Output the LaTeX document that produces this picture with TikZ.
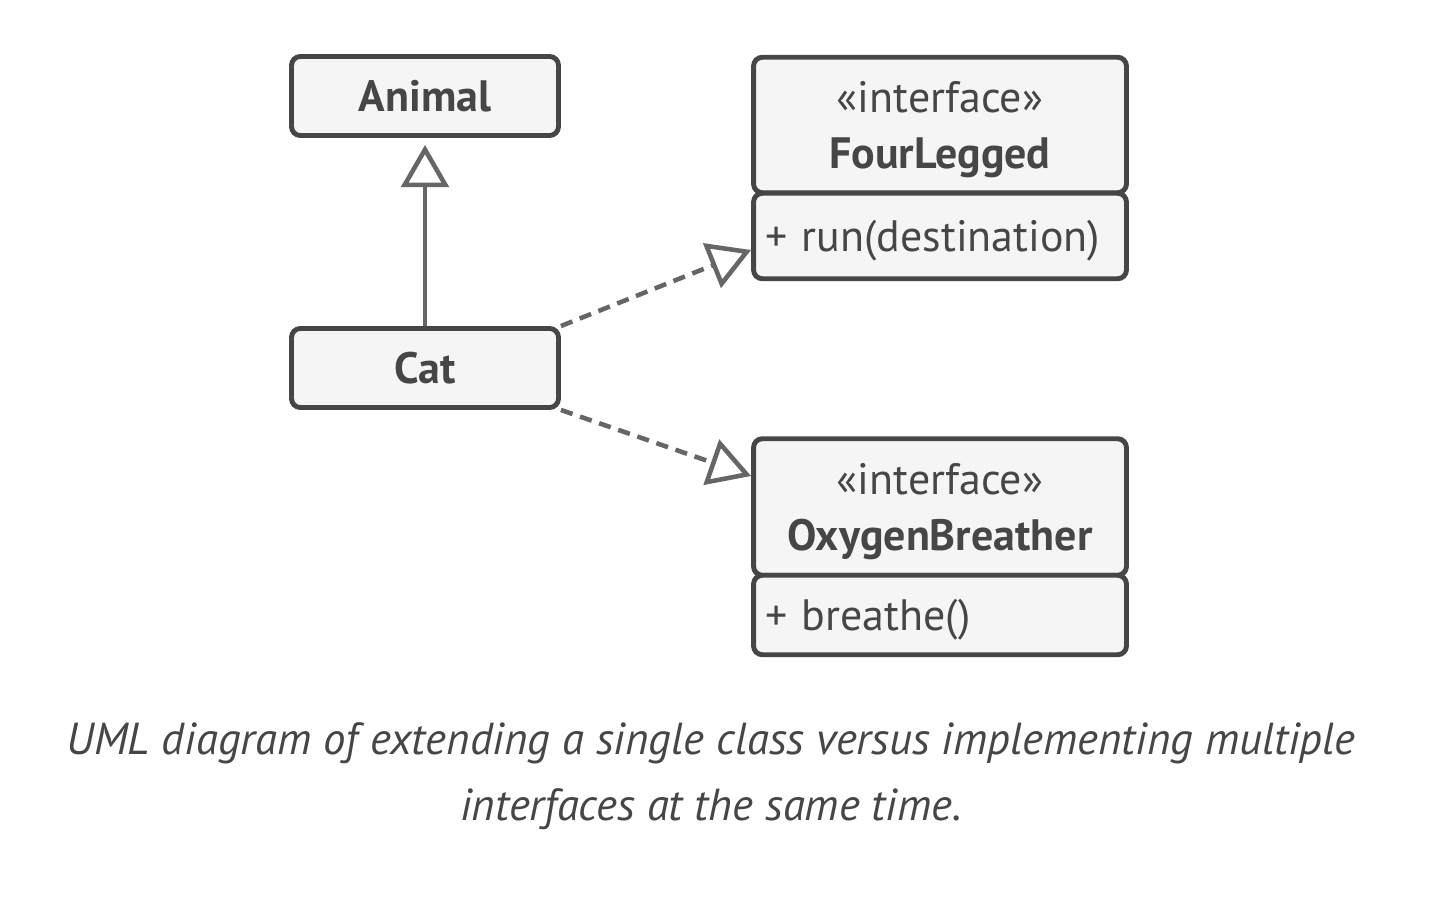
\documentclass[tikz,border=0pt]{standalone}
\usepackage{fontspec}
\setmainfont{PT Sans}
\usetikzlibrary{arrows.meta}
\definecolor{umlline}{HTML}{464646}
\definecolor{umlfill}{HTML}{F5F5F5}
\definecolor{arrowgray}{HTML}{666666}
\newcommand\capcol{umlline}

\begin{document}
\begin{tikzpicture}[x=0.02cm, y=-0.02cm,
      box/.style={draw=umlline, fill=umlfill, line width=2.8pt, rounded corners=5pt,
        text=umlline, inner sep=0pt, font=\fontsize{25}{32}\selectfont},
      classbox/.style={box, minimum width=5.34cm, minimum height=1.58cm},
      headbox/.style={box, minimum width=7.46cm, align=center, text depth=0pt},
      opsbox/.style={box, minimum width=7.46cm, text width=7.0cm, align=left, text depth=0pt},
      hollow/.style={draw=arrowgray, line width=2.6pt,
        -{Triangle[length=24pt 0, width=27pt 0, fill=white, line join=miter]}},
      realize/.style={hollow, dash pattern=on 7pt off 4.5pt}
    ]
    \useasboundingbox (0, 0) rectangle (1432, 898);

    \node[classbox] (animal) at (425, 96) {\bfseries Animal};
    \node[classbox] (cat) at (425, 368) {\bfseries Cat};

    \node[headbox, minimum height=2.71cm] (fourlegged) at (940, 125) {«interface»\\\textbf{FourLegged}};
    \node[opsbox, minimum height=1.71cm] (fourops) at (940, 236) {+ run(destination)};

    \node[headbox, minimum height=2.73cm] (oxygen) at (940, 507) {«interface»\\\textbf{OxygenBreather}};
    \node[opsbox, minimum height=1.59cm] (oxyops) at (940, 615) {+ breathe()};

    \draw[hollow, shorten >=4pt] (cat) -- (animal);
    \draw[realize] (cat.north east) -- ([yshift=-0.28cm]fourops.west);
    \draw[realize] (cat.south east) -- ([yshift=0.62cm]oxygen.west);

    \node[align=center, text=\capcol, font=\fontsize{25.5}{37.5}\selectfont\itshape] (caption) at (711, 776)
      {UML diagram of extending a single class versus implementing multiple\\interfaces at the same time.};
  \end{tikzpicture}
\end{document}
